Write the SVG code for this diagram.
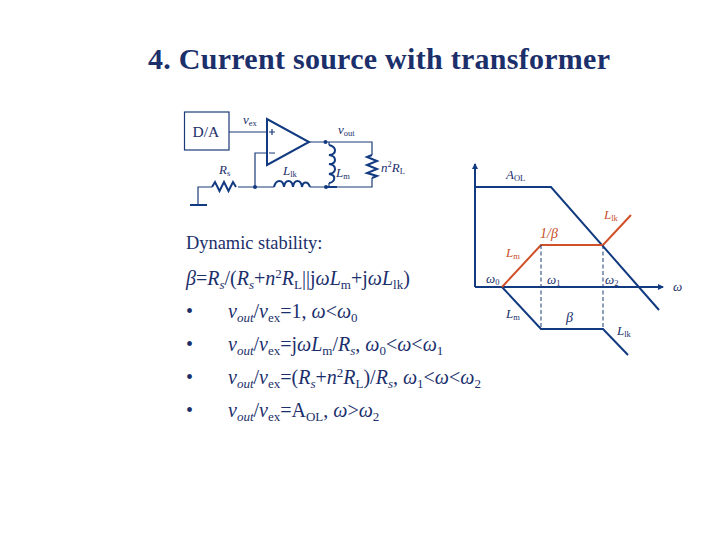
<svg xmlns="http://www.w3.org/2000/svg" width="720" height="540" viewBox="0 0 720 540">
<style>
text{font-family:"Liberation Serif","Times New Roman",serif;fill:#1b2f6b}
.i{font-style:italic}
.w{fill:none;stroke:#1b3a78;stroke-width:1.2}
.b{fill:none;stroke:#123a80;stroke-width:2}
.r{fill:none;stroke:#d0502a;stroke-width:2}
.d{fill:none;stroke:#1b3a78;stroke-width:1;stroke-dasharray:4 2.5}
.n{fill:#123a80}
.c{font-size:13px}
.m{font-size:20px}
.s{font-size:8.500px;font-style:normal}
</style>
<defs>
<marker id="ah" markerWidth="8" markerHeight="8" refX="5" refY="3" orient="auto" markerUnits="userSpaceOnUse"><path d="M0,0L6,3L0,6Z" fill="#123a80"/></marker>
</defs>
<rect width="720" height="540" fill="#fff"/>
<text id="title" x="148" y="69" font-size="30" font-weight="bold" textLength="462" lengthAdjust="spacing">4. Current source with transformer</text>

<g id="connectors">
<path class="w" d="M229,132H267M309,142H372V155M372,178V187H326M255,187V153H267M198,205V187H212M238,187H274M310,187H326M329,142V145M329,183V187"/>
<path class="b" d="M190,205H207M326,187H337"/>
<path class="b" d="M475,287V164" marker-end="url(#ah)"/>
<path class="b" d="M475,287H663" marker-end="url(#ah)"/>
<path class="b" d="M475,187H551L659,310"/>
<path class="b" d="M502,287L541,329H603L628,355"/>
<path class="r" d="M502,287L541,245H603L631,215"/>
<path class="d" d="M541,245V329M603,245V329"/>
</g>

<g id="da"><rect class="w" x="184.500" y="112" width="44.500" height="38"/><text x="192.500" y="136.500" font-size="15.500">D/A</text></g>
<g id="opamp"><path class="b" d="M267,119V165L309,142Z"/><path class="w" d="M269,132h6M272,129v6M269,153h6"/></g>
<g id="rs"><path class="b" d="M212,187l3,-5 4.500,9 4.500,-9 4.500,9 4.500,-9 3,5"/><text class="i c" x="219" y="174">R<tspan class="s" dy="2">s</tspan></text></g>
<g id="llk"><path class="b" d="M274,187c2,-8 9,-8 10,0c1,-8 8,-8 9,0c1,-8 8,-8 9,0c1,-6 6,-6 8,0"/><text class="i c" x="283" y="175">L<tspan class="s" dy="2">lk</tspan></text></g>
<g id="lm"><path class="b" d="M329,145c8,2 8,9 0,10c8,1 8,9 0,9c8,1 8,9 0,10c8,1 6,8 0,9"/><text class="i c" x="336" y="177">L<tspan class="s" dy="2">m</tspan></text></g>
<g id="rl"><path class="b" d="M372,155l-5,2 10,4 -10,4 10,4 -10,4 10,3 -5,2"/><text class="i c" x="381" y="172">n<tspan class="s" dy="-5">2</tspan><tspan dy="5">R</tspan><tspan class="s" dy="2">L</tspan></text></g>
<g id="nodes"><circle class="n" cx="255" cy="187" r="2"/><circle class="n" cx="325.500" cy="142" r="2"/><circle class="n" cx="326" cy="187" r="2"/></g>
<g id="clabels">
<text class="i c" x="243" y="124">v<tspan class="s" dy="2">ex</tspan></text>
<text class="i c" x="338" y="134">v<tspan class="s" dy="2">out</tspan></text>
</g>

<g id="plabels">
<text class="i c" x="506" y="179">A<tspan class="s" dy="2">OL</tspan></text>
<text class="i c" x="604" y="219" style="fill:#c8502a">L<tspan class="s" dy="2">lk</tspan></text>
<text class="i" font-size="14" x="540" y="238" style="fill:#c8502a">1/β</text>
<text class="i c" x="506" y="257" style="fill:#c8502a">L<tspan class="s" dy="2">m</tspan></text>
<text class="i c" x="486" y="283">ω<tspan class="s" dy="2">0</tspan></text>
<text class="i c" x="547" y="284">ω<tspan class="s" dy="2">1</tspan></text>
<text class="i c" x="605" y="284">ω<tspan class="s" dy="2">2</tspan></text>
<text class="i c" x="673" y="291">ω</text>
<text class="i c" x="506" y="318">L<tspan class="s" dy="2">m</tspan></text>
<text class="i" font-size="14" x="566" y="322">β</text>
<text class="i c" x="617" y="335">L<tspan class="s" dy="2">lk</tspan></text>
</g>

<g id="body">
<text font-size="18.400" x="186" y="249">Dynamic stability:</text>
<text class="m" x="186" y="285"><tspan class="i">β</tspan>=<tspan class="i">R</tspan><tspan class="i" font-size="13" dy="4">s</tspan><tspan dy="-4">/(</tspan><tspan class="i">R</tspan><tspan class="i" font-size="13" dy="4">s</tspan><tspan dy="-4">+</tspan><tspan class="i">n</tspan><tspan font-size="13" dy="-7">2</tspan><tspan class="i" dy="7">R</tspan><tspan font-size="13" dy="4">L</tspan><tspan dy="-4">||j</tspan><tspan class="i">ωL</tspan><tspan font-size="13" dy="4">m</tspan><tspan dy="-4">+j</tspan><tspan class="i">ωL</tspan><tspan font-size="13" dy="4">lk</tspan><tspan dy="-4">)</tspan></text>
<text class="m" x="186" y="318">•</text>
<text class="m" x="228" y="318"><tspan class="i">v</tspan><tspan class="i" font-size="13" dy="4">out</tspan><tspan dy="-4">/</tspan><tspan class="i">v</tspan><tspan font-size="13" dy="4">ex</tspan><tspan dy="-4">=1, </tspan><tspan class="i">ω</tspan>&lt;<tspan class="i">ω</tspan><tspan font-size="13" dy="4">0</tspan></text>
<text class="m" x="186" y="351">•</text>
<text class="m" x="228" y="351"><tspan class="i">v</tspan><tspan class="i" font-size="13" dy="4">out</tspan><tspan dy="-4">/</tspan><tspan class="i">v</tspan><tspan font-size="13" dy="4">ex</tspan><tspan dy="-4">=j</tspan><tspan class="i">ωL</tspan><tspan font-size="13" dy="4">m</tspan><tspan dy="-4">/</tspan><tspan class="i">R</tspan><tspan class="i" font-size="13" dy="4">s</tspan><tspan dy="-4">, </tspan><tspan class="i">ω</tspan><tspan font-size="13" dy="4">0</tspan><tspan dy="-4">&lt;</tspan><tspan class="i">ω</tspan>&lt;<tspan class="i">ω</tspan><tspan font-size="13" dy="4">1</tspan></text>
<text class="m" x="186" y="384">•</text>
<text class="m" x="228" y="384"><tspan class="i">v</tspan><tspan class="i" font-size="13" dy="4">out</tspan><tspan dy="-4">/</tspan><tspan class="i">v</tspan><tspan font-size="13" dy="4">ex</tspan><tspan dy="-4">=(</tspan><tspan class="i">R</tspan><tspan class="i" font-size="13" dy="4">s</tspan><tspan dy="-4">+</tspan><tspan class="i">n</tspan><tspan font-size="13" dy="-7">2</tspan><tspan class="i" dy="7">R</tspan><tspan font-size="13" dy="4">L</tspan><tspan dy="-4">)/</tspan><tspan class="i">R</tspan><tspan class="i" font-size="13" dy="4">s</tspan><tspan dy="-4">, </tspan><tspan class="i">ω</tspan><tspan font-size="13" dy="4">1</tspan><tspan dy="-4">&lt;</tspan><tspan class="i">ω</tspan>&lt;<tspan class="i">ω</tspan><tspan font-size="13" dy="4">2</tspan></text>
<text class="m" x="186" y="417">•</text>
<text class="m" x="228" y="417"><tspan class="i">v</tspan><tspan class="i" font-size="13" dy="4">out</tspan><tspan dy="-4">/</tspan><tspan class="i">v</tspan><tspan font-size="13" dy="4">ex</tspan><tspan dy="-4">=A</tspan><tspan font-size="13" dy="4">OL</tspan><tspan dy="-4">, </tspan><tspan class="i">ω</tspan>&gt;<tspan class="i">ω</tspan><tspan font-size="13" dy="4">2</tspan></text>
</g>
</svg>
